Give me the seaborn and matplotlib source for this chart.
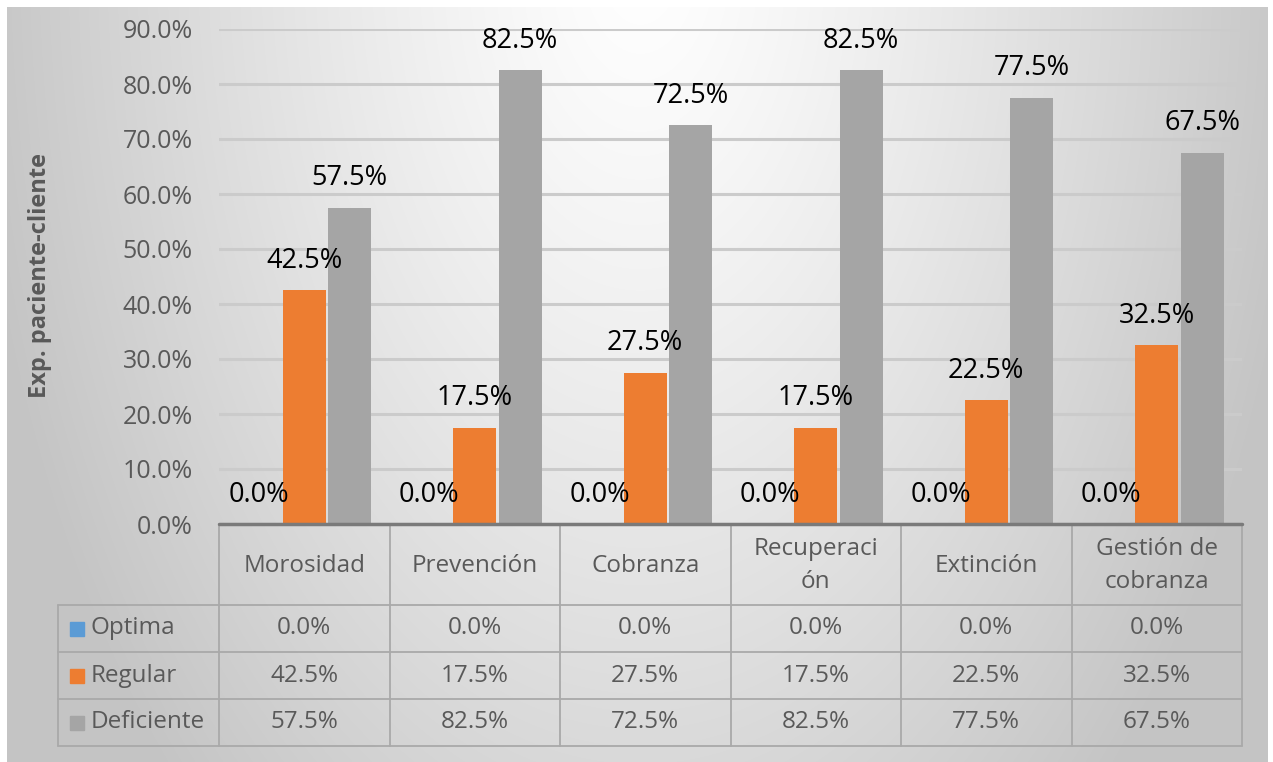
import numpy as np
import pandas as pd
import matplotlib
matplotlib.use("Agg")
import matplotlib.pyplot as plt
import seaborn as sns
from matplotlib.patches import Rectangle

# ---------------- data ----------------
categories = ["Morosidad", "Prevención", "Cobranza", "Recuperación", "Extinción", "Gestión de cobranza"]
header_labels = ["Morosidad", "Prevención", "Cobranza", "Recuperaci\nón", "Extinción", "Gestión de\ncobranza"]
series = ["Optima", "Regular", "Deficiente"]
optima = [0.0, 0.0, 0.0, 0.0, 0.0, 0.0]
regular = [0.425, 0.175, 0.275, 0.175, 0.225, 0.325]
deficiente = [0.575, 0.825, 0.725, 0.825, 0.775, 0.675]
colors = ["#5B9BD5", "#ED7D31", "#A5A5A5"]
yticks = [0.0, 0.1, 0.2, 0.3, 0.4, 0.5, 0.6, 0.7, 0.8, 0.9]
ylabel = "Exp. paciente-cliente"

values = {"Optima": optima, "Regular": regular, "Deficiente": deficiente}
df = pd.DataFrame({
    "cat": [c for s in series for c in categories],
    "serie": [s for s in series for _ in categories],
    "val": [v for s in series for v in values[s]],
})

sns.set_theme(style="white")
plt.rcParams["font.family"] = ["Open Sans", "DejaVu Sans"]

W, H = 1273, 762
fig = plt.figure(figsize=(W / 100, H / 100), dpi=100)
fig.patch.set_facecolor("white")

# ---------------- background gradient ----------------
bg = fig.add_axes([0, 0, 1, 1], zorder=-10)
bg.set_xlim(0, W)
bg.set_ylim(H, 0)
bg.axis("off")
yy, xx = np.mgrid[0:H, 0:W]
d = np.sqrt(((xx - 640) / 640.0) ** 2 + ((yy + 50) / 1100.0) ** 2)
val = 1 - 0.216 * d ** 1.23
val = np.clip(val, 0.77, 1.0)
img = np.dstack([val, val, val])
bg.imshow(img[7:H, 7:1268], extent=(7, 1268, H, 7), aspect="auto", interpolation="bilinear")

# ---------------- main axes ----------------
L, R, T, B = 219, 1242, 29, 524
ax = fig.add_axes([L / W, (H - B) / H, (R - L) / W, (B - T) / H])
ax.patch.set_alpha(0)
sns.barplot(data=df, x="cat", y="val", hue="serie", hue_order=series, order=categories,
            palette=colors, saturation=1, width=0.8, gap=0.05, ax=ax, legend=False,
            linewidth=0, edgecolor="none")
ax.set_xlim(-0.5, len(categories) - 0.5)
ax.set_ylim(0, 0.9)
ax.set_yticks(yticks)
ax.set_yticklabels([f"{v:.1%}" for v in yticks])
ax.set_xticks([])
ax.set_xlabel("")
ax.set_ylabel("")
ax.tick_params(axis="y", length=0, pad=19, labelsize=18, labelcolor="#595959")
for sp in ax.spines.values():
    sp.set_visible(False)
ax.yaxis.grid(True, color="#cbcbcb", lw=2.2)
ax.set_axisbelow(True)
ax.axhline(0, color="#7a7a7a", lw=2.5, clip_on=False, zorder=5)

for cont, s in zip(ax.containers, series):
    ax.bar_label(cont, labels=[f"{v:.1%}" for v in values[s]], padding=11,
                 fontsize=19.5, color="black")

fig.text(40 / W, 1 - 276 / H, ylabel, rotation=90, ha="center", va="center",
         fontsize=17, fontweight="bold", color="#595959")

# ---------------- data table ----------------
lc = "#a9a9a9"
ncol = len(categories)
colw = (R - L) / ncol
col_x = [L + i * colw for i in range(ncol + 1)]
row_y = [605, 652, 699, 746]
legend_left = 58

for x in col_x:
    bg.plot([x, x], [B, row_y[-1]], color=lc, lw=1.3)
bg.plot([legend_left, legend_left], [row_y[0], row_y[-1]], color=lc, lw=1.3)
for y in row_y:
    bg.plot([legend_left, R], [y, y], color=lc, lw=1.3)

tc = "#595959"
for i, lab in enumerate(header_labels):
    bg.text(col_x[i] + colw / 2, (B + row_y[0]) / 2 + 1, lab, ha="center", va="center",
            fontsize=17.5, color=tc, linespacing=1.45)

for r, s in enumerate(series):
    yc = (row_y[r] + row_y[r + 1]) / 2
    bg.add_patch(Rectangle((70, yc - 7), 14, 14, color=colors[r]))
    bg.text(91, yc, s, ha="left", va="center", fontsize=17.5, color=tc)
    for i in range(ncol):
        bg.text(col_x[i] + colw / 2, yc, f"{values[s][i]:.1%}", ha="center", va="center",
                fontsize=17.5, color=tc)

fig.savefig("out.png", dpi=100)
